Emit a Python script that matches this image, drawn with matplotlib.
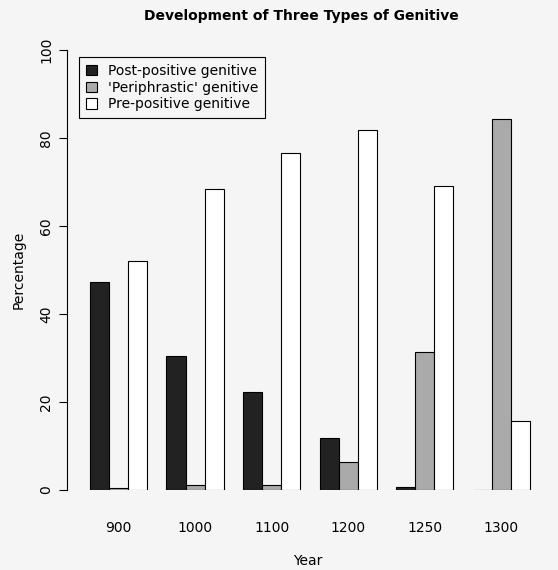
import matplotlib.pyplot as plt
import numpy as np

years = ['900', '1000', '1100', '1200', '1250', '1300']
post_positive = [47.3, 30.5, 22.3, 11.8, 0.7, 0.0]
periphrastic = [0.5, 1.1, 1.1, 6.4, 31.4, 84.3]
pre_positive = [52.0, 68.4, 76.6, 81.8, 69.1, 15.7]

W, H = 558, 570
bg = '#f5f5f5'
fig = plt.figure(figsize=(W / 100, H / 100), dpi=100, facecolor=bg)
ax = fig.add_axes([67 / W, 1 - 490 / H, (548 - 67) / W, 440 / H], facecolor=bg)

# R barplot(beside=TRUE) layout: groups of 3 bars, gap of 1
starts = np.arange(len(years)) * 4 + 1
series = [(post_positive, '#222222', 'Post-positive genitive'),
          (periphrastic, '#aaaaaa', "'Periphrastic' genitive"),
          (pre_positive, 'white', 'Pre-positive genitive')]
for i, (vals, col, lab) in enumerate(series):
    ax.bar(starts + i, vals, width=1, align='edge', color=col,
           edgecolor='black', linewidth=0.8, label=lab)

ax.set_xlim(-0.2, 24.94)
ax.set_ylim(0, 100)
for s in ['top', 'right', 'bottom']:
    ax.spines[s].set_visible(False)
ax.spines['left'].set_position(('outward', 0))
ax.set_xticks(starts + 1.5)
ax.set_xticklabels(years, fontsize=10)
ax.tick_params(axis='x', length=0, pad=22)
ax.set_yticks(range(0, 101, 20))
ax.set_yticklabels([str(v) for v in range(0, 101, 20)], rotation=90, va='center', fontsize=10)
ax.tick_params(axis='y', length=6, pad=4)

ax.set_xlabel('Year', fontsize=10, labelpad=14)
ax.set_ylabel('Percentage', fontsize=10, labelpad=10)
fig.text(0.54, 1 - 16 / H, 'Development of Three Types of Genitive',
         ha='center', va='center', fontsize=10, fontweight='bold')

leg = ax.legend(loc='upper left', bbox_to_anchor=(0.01, 1.0), frameon=True,
                fancybox=False, edgecolor='black', facecolor=bg, fontsize=10,
                handlelength=0.8, handleheight=0.8, borderpad=0.5, labelspacing=0.2,
                framealpha=1)
leg.get_frame().set_linewidth(0.8)

fig.savefig('out.png', dpi=100, facecolor=bg)
